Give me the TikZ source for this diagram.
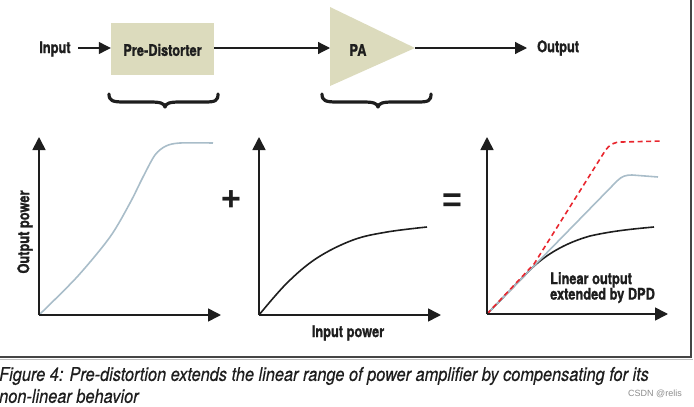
\documentclass[tikz,border=0pt]{standalone}
\usepackage{fontspec}
\usetikzlibrary{arrows.meta}
\newfontfamily\hcond[FakeStretch=0.80, BoldFeatures={FakeBold=1.2}]{TeX Gyre Heros}
\newfontfamily\hcapt[FakeStretch=0.86, ItalicFeatures={FakeBold=0.4}]{TeX Gyre Heros}
\newfontfamily\hplain{Liberation Sans}
\definecolor{beige}{HTML}{DCDBBD}
\definecolor{curvegray}{HTML}{A9BDC9}
\definecolor{dpdred}{HTML}{E8262E}
\definecolor{framegray}{HTML}{454545}
\definecolor{inkblack}{HTML}{1E1E1E}
\begin{document}
\begin{tikzpicture}[x=1pt,y=-1pt,
  lbl/.style={font=\hcond\bfseries\fontsize{16}{18}\selectfont, inner sep=0pt, text=inkblack},
  flow/.style={line width=1.2pt, draw=inkblack, -{Triangle[length=12pt,width=12pt]}},
  axis/.style={line width=1.6pt, draw=inkblack, -{Triangle[length=13pt,width=13pt]}},
  bracestyle/.style={line width=3.2pt, draw=inkblack, line cap=round, line join=round},
  graycurve/.style={line width=1.6pt, draw=curvegray},
  blackcurve/.style={line width=1.6pt, draw=inkblack},
  redcurve/.style={line width=1.6pt, draw=dpdred, dash pattern=on 5pt off 3.5pt},
  opsign/.style={font=\hplain\fontsize{34}{34}\selectfont, inner sep=0pt, text=inkblack},
  capt/.style={font=\hcapt\itshape\fontsize{19}{21}\selectfont, inner sep=0pt, anchor=west, text=inkblack}
]
\useasboundingbox (0,0) rectangle (694,407);

% frame
\draw[line width=1.3pt, draw=framegray] (0,357) -- (691,357) -- (691,-2);
\draw[line width=0.8pt, draw=black!25] (0,359) -- (693,359);

% block diagram
\node[lbl] (input) at (55,49) {Input};
\node[fill=beige, minimum width=103pt, minimum height=52pt, inner sep=0pt] (pd) at (162.5,49) {};
\node[lbl] (pdtext) at (162.5,50) {Pre-Distorter};
\fill[beige] (330,7) -- (415,48) -- (330,86) -- cycle;
\coordinate (paL) at (330,48);
\coordinate (paR) at (415,48);
\node[lbl] (pa) at (358,50) {PA};
\node[lbl, anchor=west] (output) at (537,48) {Output};
\coordinate (outEnd) at (527,48);
\coordinate (inStart) at (78,48);

\draw[flow] (inStart) -- (pd.west |- inStart);
\draw[flow] (pd.east |- paL) -- (paL);
\draw[flow] (paR) -- (outEnd);

% braces
\draw[bracestyle] (109,94) .. controls (109,101) and (113,102) .. (124,102) -- (150,102)
  .. controls (160,102) and (164,103) .. (165,107)
  .. controls (166,103) and (170,102) .. (180,102) -- (205,102)
  .. controls (215,102) and (218,101) .. (218,94);
\draw[bracestyle] (322,94) .. controls (322,101) and (326,102) .. (337,102) -- (363,102)
  .. controls (373,102) and (377,103) .. (378,107)
  .. controls (379,103) and (383,102) .. (393,102) -- (418,102)
  .. controls (428,102) and (431,101) .. (431,94);

% graph 1
\coordinate (o1) at (39,315);
\coordinate (y1) at (39,137);
\coordinate (x1) at (221,315);
\draw[graycurve] plot[smooth, tension=0.5] coordinates {(39,315) (77,277) (110,237) (130,203) (143,177) (155,155) (166,146) (180,143) (213,143)};
\draw[axis] (o1) -- (y1);
\draw[axis] (o1) -- (x1);
\node[lbl, rotate=90] (outpow) at (25,232) {Output power};

\node[opsign] (plus) at (231,201) {\bfseries +};

% graph 2
\coordinate (o2) at (259,315);
\coordinate (y2) at (259,137);
\coordinate (x2) at (441,315);
\draw[blackcurve] plot[smooth, tension=0.6] coordinates {(259,315) (287,283) (317,258) (353,240) (387,232) (427,227)};
\draw[axis] (o2) -- (y2);
\draw[axis] (o2) -- (x2);
\node[lbl] (inpow) at (348,333) {Input power};

\node[opsign] (equal) at (452,203) {\bfseries =};

% graph 3
\coordinate (o3) at (487,314);
\coordinate (y3) at (487,137);
\coordinate (x3) at (668,314);
\draw[blackcurve] (487,314) -- (530,270) .. controls (545,255) and (565,243) .. (590,236) .. controls (612,231) and (632,229) .. (654,227);
\draw[graycurve] (487,314) -- (617,181) .. controls (622,176) and (626,175) .. (632,175) -- (658,177);
\draw[redcurve] (487,314) -- (534,264) -- (605,151) .. controls (610,144) and (614,142) .. (622,142) -- (663,141);
\draw[axis] (o3) -- (y3);
\draw[axis] (o3) -- (x3);
\node[lbl, anchor=north west, align=left, font=\hcond\bfseries\fontsize{16}{15.5}\selectfont] (dpd) at (550,272) {Linear output\\extended by DPD};

% caption
\node[capt] (cap1) at (-1,376) {Figure 4: Pre-distortion extends the linear range of power amplifier by compensating for its};
\node[capt] (cap2) at (-1,396) {non-linear behavior};
\node[font=\hplain\fontsize{9}{10}\selectfont, text=black!45, inner sep=0pt, anchor=east] (csdn) at (682,394) {CSDN @relis};
\end{tikzpicture}
\end{document}
